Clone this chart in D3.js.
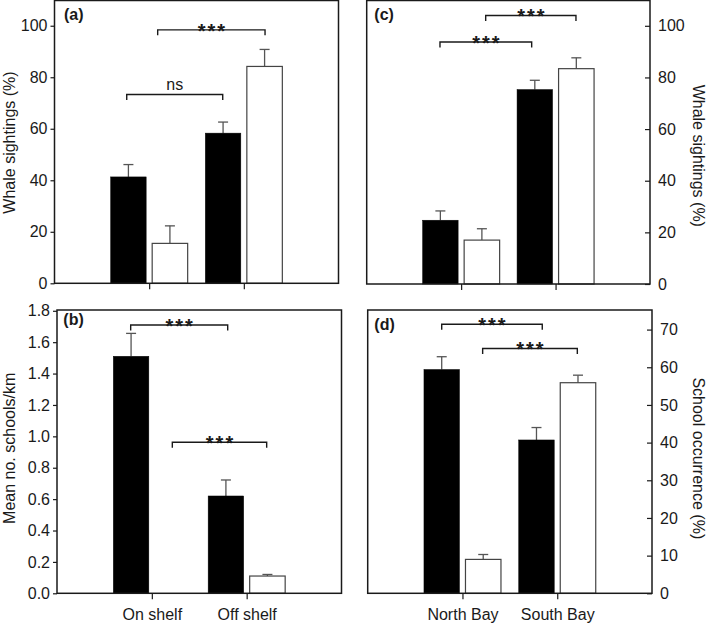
<!DOCTYPE html>
<html><head><meta charset="utf-8">
<script src="https://cdn.jsdelivr.net/npm/d3@7"></script>
<style>body{margin:0;background:#fff}svg{display:block}text{font-family:"Liberation Sans",Arial,Helvetica,sans-serif}</style>
</head><body>
<script>
// ---------- data ----------
const shelfCategories = ["On shelf", "Off shelf"];
const bayCategories = ["North Bay", "South Bay"];
const seriesNames = ["black", "white"];

const whaleShelfBlack = [41.3, 58.3];
const whaleShelfBlackErr = [46.1, 62.6];
const whaleShelfWhite = [15.5, 84.2];
const whaleShelfWhiteErr = [22.3, 90.8];

const schoolShelfBlack = [1.51, 0.62];
const schoolShelfBlackErr = [1.656, 0.722];
const schoolShelfWhite = [0.0, 0.11];
const schoolShelfWhiteErr = [null, 0.12];

const whaleBayBlack = [24.7, 75.3];
const whaleBayBlackErr = [28.3, 78.9];
const whaleBayWhite = [17.0, 83.4];
const whaleBayWhiteErr = [21.4, 87.6];

const occurBayBlack = [59.4, 40.7];
const occurBayBlackErr = [62.8, 44.0];
const occurBayWhite = [9.0, 55.9];
const occurBayWhiteErr = [10.3, 57.9];

const whaleTicks = [0, 20, 40, 60, 80, 100];
const schoolTicks = [0, 0.2, 0.4, 0.6, 0.8, 1.0, 1.2, 1.4, 1.6, 1.8];
const occurTicks = [0, 10, 20, 30, 40, 50, 60, 70];

// brackets: x in category-axis units (categories at 1 and 2), y in data units
const bracketsA = [{x1: 0.763, x2: 1.777, y: 73.3, label: "ns"}, {x1: 1.090, x2: 2.224, y: 98.4, label: "***"}];
const bracketsB = [{x1: 0.777, x2: 1.800, y: 1.709, label: "***"}, {x1: 1.216, x2: 2.211, y: 0.962, label: "***"}];
const bracketsC = [{x1: 0.776, x2: 1.747, y: 93.7, label: "***"}, {x1: 1.260, x2: 2.216, y: 104.0, label: "***"}];
const bracketsD = [{x1: 0.781, x2: 1.842, y: 71.4, label: "***"}, {x1: 1.213, x2: 2.212, y: 65.0, label: "***"}];

// ---------- drawing ----------
const W = 709, H = 626;
const svg = d3.select("body").append("svg").attr("width", W).attr("height", H);
const ink = "#1a1a1a";

function panel(cfg) {
  const {box, cats, black, blackErr, white, whiteErr, yMax, ticks, fmt, side,
         showXLabels, brackets, tag, tagPos, title, titlePos} = cfg;
  const x = d3.scaleLinear().domain([0, 3]).range([box.x0, box.x1]);
  const y = d3.scaleLinear().domain([0, yMax]).range([box.y1, box.y0]);
  const sub = d3.scaleBand().domain(seriesNames).range([-38.5, 38.5]).paddingInner(0.145);
  const g = svg.append("g");

  const rows = cats.map((c, i) => ({cat: c, i,
    vals: [{s: "black", v: black[i], e: blackErr[i]}, {s: "white", v: white[i], e: whiteErr[i]}]}));

  // error bars (drawn under bars)
  const eb = g.append("g");
  rows.forEach(r => r.vals.forEach(d => {
    if (d.e == null) return;
    const cx = x(r.i + 1) + sub(d.s) + sub.bandwidth() / 2;
    eb.append("line").attr("x1", cx).attr("x2", cx).attr("y1", y(d.v)).attr("y2", y(d.e))
      .attr("stroke", "#555").attr("stroke-width", 1.3);
    eb.append("line").attr("x1", cx - 5).attr("x2", cx + 5).attr("y1", y(d.e)).attr("y2", y(d.e))
      .attr("stroke", "#555").attr("stroke-width", 1.3);
  }));

  // bars
  rows.forEach(r => {
    g.selectAll(null).data(r.vals).enter().append("rect")
      .attr("x", d => x(r.i + 1) + sub(d.s))
      .attr("width", sub.bandwidth())
      .attr("y", d => y(d.v))
      .attr("height", d => y(0) - y(d.v))
      .attr("fill", d => d.s === "black" ? "#000" : "#fff")
      .attr("stroke", d => d.s === "black" ? "#000" : "#444")
      .attr("stroke-width", d => d.s === "black" ? 0.5 : 1.2);
  });

  // frame
  g.append("rect").attr("x", box.x0).attr("y", box.y0)
    .attr("width", box.x1 - box.x0).attr("height", box.y1 - box.y0)
    .attr("fill", "none").attr("stroke", ink).attr("stroke-width", 1.5);

  // y axis
  const yAxis = side === "left"
    ? d3.axisLeft(y).tickValues(ticks).tickFormat(fmt).tickSizeInner(4).tickSizeOuter(0).tickPadding(3)
    : d3.axisRight(y).tickValues(ticks).tickFormat(fmt).tickSizeInner(-5).tickSizeOuter(0).tickPadding(8);
  const ya = g.append("g").attr("transform", `translate(${side === "left" ? box.x0 : box.x1},0)`).call(yAxis);
  ya.select(".domain").remove();
  ya.selectAll("line").attr("stroke", ink).attr("stroke-width", 1.2);
  ya.selectAll("text").attr("font-size", 16).attr("fill", ink).style("font-family", "'Liberation Sans',Arial,sans-serif");

  // x axis
  const xAxis = d3.axisBottom(x).tickValues([1, 2])
    .tickFormat(showXLabels ? (d => cats[d - 1]) : (() => ""))
    .tickSizeInner(6).tickSizeOuter(0).tickPadding(9);
  const xa = g.append("g").attr("transform", `translate(0,${box.y1})`).call(xAxis);
  xa.select(".domain").remove();
  xa.selectAll("line").attr("stroke", ink).attr("stroke-width", 1.2);
  xa.selectAll("text").attr("font-size", 16).attr("fill", ink).style("font-family", "'Liberation Sans',Arial,sans-serif");

  // brackets
  brackets.forEach(b => {
    const yy = y(b.y), xa1 = x(b.x1), xa2 = x(b.x2);
    g.append("path").attr("d", `M${xa1},${yy + 5.5}V${yy}H${xa2}V${yy + 5.5}`)
      .attr("fill", "none").attr("stroke", ink).attr("stroke-width", 1.4);
    const t = g.append("text").attr("x", (xa1 + xa2) / 2).attr("text-anchor", "middle").attr("fill", ink).text(b.label);
    if (b.label === "ns") t.attr("y", yy - 4.7).attr("font-size", 16);
    else t.attr("y", yy + 8).attr("font-size", 20).attr("font-weight", "bold")
          .attr("letter-spacing", 2).attr("dx", 1);
  });

  // panel tag
  g.append("text").attr("x", tagPos[0]).attr("y", tagPos[1]).attr("font-size", 16)
    .attr("font-weight", "bold").attr("fill", ink).text(tag);

  // axis title
  g.append("text").attr("transform", `translate(${titlePos[0]},${titlePos[1]}) rotate(${side === "left" ? -90 : 90})`)
    .attr("text-anchor", "middle").attr("font-size", 16).attr("fill", ink).text(title);
}

const f0 = d3.format("d"), f1 = d3.format(".1f");

panel({box: {x0: 54.5, x1: 338.5, y0: 0.5, y1: 283.3}, cats: shelfCategories,
  black: whaleShelfBlack, blackErr: whaleShelfBlackErr, white: whaleShelfWhite, whiteErr: whaleShelfWhiteErr,
  yMax: 109.8, ticks: whaleTicks, fmt: f0, side: "left", showXLabels: false, brackets: bracketsA,
  tag: "(a)", tagPos: [64, 20], title: "Whale sightings (%)", titlePos: [15, 142.5]});

panel({box: {x0: 57, x1: 341.5, y0: 310, y1: 593.3}, cats: shelfCategories,
  black: schoolShelfBlack, blackErr: schoolShelfBlackErr, white: schoolShelfWhite, whiteErr: schoolShelfWhiteErr,
  yMax: 1.805, ticks: schoolTicks, fmt: f1, side: "left", showXLabels: true, brackets: bracketsB,
  tag: "(b)", tagPos: [63.3, 325], title: "Mean no. schools/km", titlePos: [15, 448.3]});

panel({box: {x0: 366.7, x1: 650, y0: 0.5, y1: 284}, cats: bayCategories,
  black: whaleBayBlack, blackErr: whaleBayBlackErr, white: whaleBayWhite, whiteErr: whaleBayWhiteErr,
  yMax: 109.8, ticks: whaleTicks, fmt: f0, side: "right", showXLabels: false, brackets: bracketsC,
  tag: "(c)", tagPos: [374.3, 20], title: "Whale sightings (%)", titlePos: [693.3, 155.8]});

panel({box: {x0: 367.7, x1: 652, y0: 310, y1: 593.3}, cats: bayCategories,
  black: occurBayBlack, blackErr: occurBayBlackErr, white: occurBayWhite, whiteErr: occurBayWhiteErr,
  yMax: 75.2, ticks: occurTicks, fmt: f0, side: "right", showXLabels: true, brackets: bracketsD,
  tag: "(d)", tagPos: [374.3, 330], title: "School occurrence (%)", titlePos: [693.3, 458.3]});
</script>
</body></html>
